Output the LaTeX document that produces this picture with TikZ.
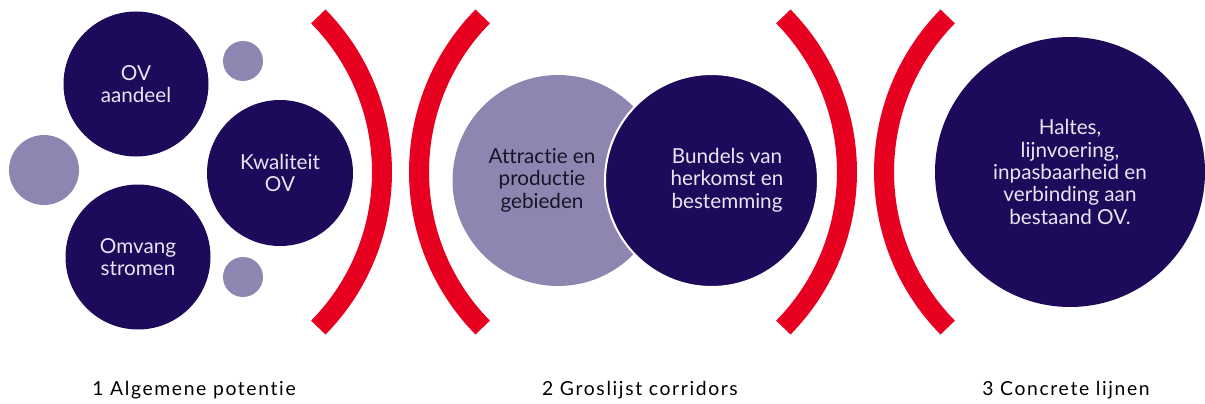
\documentclass[tikz,border=0pt]{standalone}
\usepackage{fontspec}
\setmainfont{Lato}[Ligatures={NoCommon,NoRare,NoContextual}]
\newfontfamily\capfont{Lato}[Ligatures={NoCommon,NoRare,NoContextual},LetterSpace=8.5]
\definecolor{dkpurple}{RGB}{30,10,90}
\definecolor{ltpurple}{RGB}{142,134,176}
\definecolor{redc}{RGB}{232,0,32}
\definecolor{lighttext}{RGB}{232,228,242}
\definecolor{darktext}{RGB}{25,20,40}
\tikzset{
  dk/.style={circle, fill=dkpurple, inner sep=0pt, text=lighttext, align=center,
             font=\fontsize{15.5}{16.8}\selectfont},
  lt/.style={circle, fill=ltpurple, inner sep=0pt},
  txtd/.style={text=darktext, align=center, inner sep=0pt, font=\fontsize{15.5}{16.8}\selectfont},
  txtl/.style={text=lighttext, align=center, inner sep=0pt, font=\fontsize{15.5}{16.8}\selectfont},
  bracket/.style={draw=redc, line width=15pt},
  caption/.style={text=black, inner sep=0pt, font=\capfont\fontsize{14.5}{16}\selectfont}
}
\begin{document}
\begin{tikzpicture}[x=0.75pt,y=-0.75pt]
\useasboundingbox (0,0) rectangle (1205,403);
% section 1
\node[lt, minimum size=52.5pt] (mid) at (44,170) {};
\node[lt, minimum size=30pt] (smtop) at (243,61) {};
\node[lt, minimum size=30pt] (smbot) at (243,277) {};
\node[dk, minimum size=108.75pt] (ova) at (136,84) {OV\\aandeel};
\node[dk, minimum size=109.5pt] (kw) at (280,173) {Kwaliteit\\OV};
\node[dk, minimum size=108.75pt] (om) at (138,257) {Omvang\\stromen};
% brackets
\draw[bracket] ([shift={(-44.5:222)}]160,172) arc[start angle=-44.5,end angle=44.5,radius=222];
\draw[bracket] ([shift={(135.5:222)}]641,172) arc[start angle=135.5,end angle=224.5,radius=222];
\draw[bracket] ([shift={(-44.5:222)}]625,172) arc[start angle=-44.5,end angle=44.5,radius=222];
\draw[bracket] ([shift={(135.5:222)}]1106,172) arc[start angle=135.5,end angle=224.5,radius=222];
% section 2
\node[lt, minimum size=158.25pt] (attr) at (558,180.5) {};
\node[circle, fill=dkpurple, draw=white, line width=1.5pt, inner sep=0pt, minimum size=159.75pt] (bund) at (711.5,180.5) {};
\node[txtd] (attrtext) at (542,180) {Attractie en\\productie\\gebieden};
\node[txtl] (bundtext) at (727,180) {Bundels van\\herkomst en\\bestemming};
% section 3
\node[dk, minimum size=202.5pt] (halt) at (1070,172) {Haltes,\\lijnvoering,\\inpasbaarheid en\\verbinding aan\\bestaand OV.};
% captions
\node[caption] (cap1) at (194,390) {1 Algemene potentie};
\node[caption] (cap2) at (640,390) {2 Groslijst corridors};
\node[caption] (cap3) at (1066,390) {3 Concrete lijnen};
\end{tikzpicture}
\end{document}
